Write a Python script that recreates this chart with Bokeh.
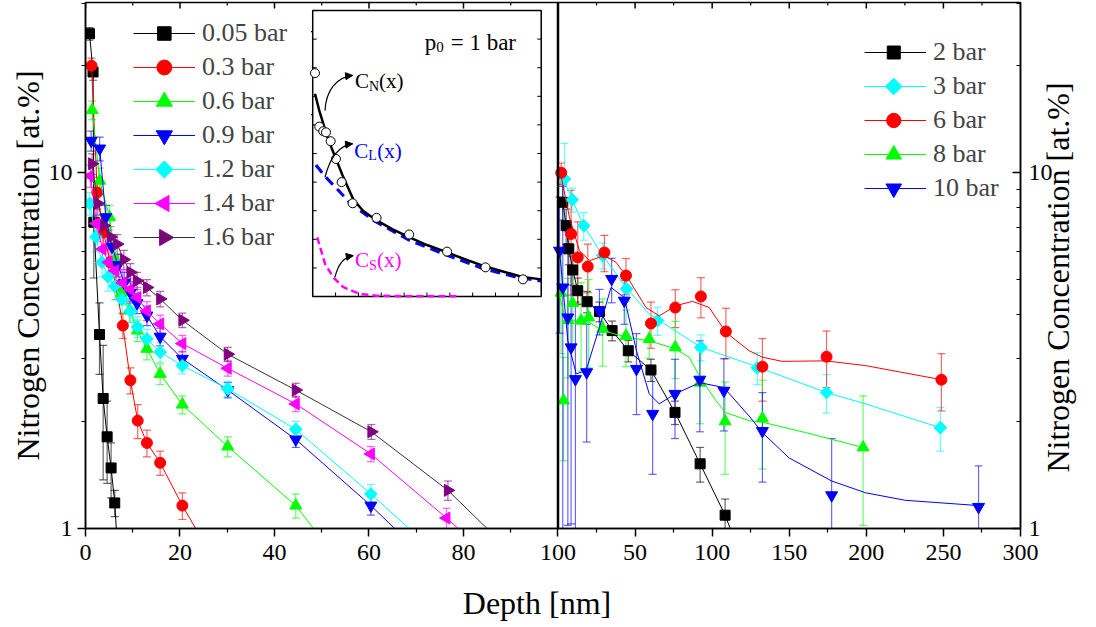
import math
from bokeh.plotting import figure
from bokeh.models import (Range1d, LinearAxis, LogAxis, FixedTicker, BasicTickFormatter,
                          Legend, LegendItem, Whisker, TeeHead, ColumnDataSource, Span,
                          LinearScale, Arrow, NormalHead)
from bokeh.core.properties import value
from bokeh.embed import file_html
from bokeh.resources import INLINE

FONT = "Liberation Serif"

# ---------------- left panel: depth 0-100 nm ----------------
d005_x = [0.85, 1.6, 1.76, 2.96, 3.74, 4.58, 5.42, 6.19, 7.0]
d005_y = [24.6, 19.2, 7.26, 3.51, 2.32, 1.81, 1.48, 1.18, 0.78]
d005_e = [1.0, 1.0, 2.2, 0.8, 0.95, 0.47, 0.26, 0.10, 0.10]

d03_x = [1.27, 2.5, 3.8, 5.2, 6.5, 7.9, 9.5, 11.05, 13.0, 15.8, 20.5, 30.1]
d03_y = [20.0, 8.8, 6.8, 5.6, 4.8, 3.72, 2.61, 2.01, 1.74, 1.53, 1.16, 0.70]
d03_e = [1.0, 0.9, 0.6, 0.5, 0.4, 0.3, 0.22, 0.22, 0.15, 0.12, 0.10, 0.06]

d06_x = [1.41, 3.0, 5.1, 6.3, 7.6, 9.3, 11.0, 13.0, 15.8, 20.5, 30.1, 44.5, 60.4]
d06_y = [15.0, 9.5, 7.5, 5.7, 4.6, 4.1, 3.6, 3.2, 2.72, 2.23, 1.70, 1.16, 0.62]
d06_e = [0.9, 0.8, 0.6, 0.45, 0.35, 0.3, 0.25, 0.22, 0.18, 0.13, 0.11, 0.09, 0.05]

d09_x = [1.2, 3.0, 4.3, 5.6, 6.9, 8.2, 9.5, 10.9, 13.0, 15.8, 20.5, 30.1, 44.5, 60.4, 76.6]
d09_y = [12.3, 11.7, 7.5, 6.2, 5.5, 4.9, 4.6, 4.3, 3.97, 3.46, 3.0, 2.45, 1.78, 1.16, 0.72]
d09_e = [0.8, 0.9, 0.6, 0.5, 0.4, 0.35, 0.3, 0.28, 0.25, 0.2, 0.15, 0.12, 0.09, 0.07, 0.05]

d12_x = [0.9, 2.2, 3.5, 4.8, 6.2, 7.75, 9.5, 11.0, 13.0, 15.8, 20.5, 30.1, 44.5, 60.4, 76.6]
d12_y = [8.2, 6.6, 5.6, 5.1, 4.8, 4.4, 4.09, 3.69, 3.41, 3.13, 2.87, 2.47, 1.90, 1.25, 0.80]
d12_e = [0.6, 0.6, 0.5, 0.45, 0.4, 0.35, 0.3, 0.25, 0.22, 0.2, 0.15, 0.12, 0.1, 0.08, 0.05]

d14_x = [1.06, 2.3, 3.6, 4.9, 6.3, 7.9, 9.5, 11.0, 13.0, 15.8, 20.5, 30.1, 44.5, 60.4, 76.4, 92.5]
d14_y = [9.8, 7.2, 6.1, 5.6, 5.3, 4.9, 4.7, 4.46, 4.09, 3.76, 3.31, 2.82, 2.24, 1.62, 1.07, 0.69]
d14_e = [0.7, 0.8, 0.6, 0.5, 0.45, 0.4, 0.35, 0.3, 0.25, 0.22, 0.18, 0.14, 0.11, 0.08, 0.07, 0.05]

d16_x = [1.4, 2.6, 3.9, 5.3, 6.7, 8.1, 9.5, 10.9, 13.0, 15.8, 20.5, 30.1, 44.5, 60.5, 76.7, 92.5]
d16_y = [10.6, 8.2, 7.1, 6.6, 6.3, 5.7, 5.25, 4.97, 4.76, 4.42, 3.85, 3.09, 2.45, 1.87, 1.28, 0.80]
d16_e = [0.7, 0.6, 0.5, 0.45, 0.4, 0.35, 0.3, 0.28, 0.25, 0.22, 0.18, 0.14, 0.11, 0.09, 0.08, 0.05]

# ---------------- right panel: depth 0-300 nm ----------------
b2_x = [3.1, 5.3, 7.0, 9.6, 12.8, 18.9, 26.9, 35.1, 45.6, 60.3, 75.9, 92.2, 108.4, 125.0]
b2_y = [8.26, 7.1, 6.11, 5.33, 4.66, 4.34, 4.07, 3.60, 3.16, 2.79, 2.12, 1.52, 1.09, 0.71]
b2_e = [0.9, 0.8, 0.6, 0.5, 0.4, 0.3, 0.26, 0.23, 0.22, 0.2, 0.16, 0.17, 0.12, 0.1]

b3_x = [4.2, 9.2, 16.7, 29.0, 44.5, 64.6, 92.7, 129.3, 174.2, 248.0]
b3_y = [9.6, 8.4, 7.1, 5.85, 4.72, 3.84, 3.23, 2.83, 2.41, 1.92]
b3_e = [2.5, 0.65, 0.64, 0.49, 0.37, 0.35, 0.27, 0.29, 0.30, 0.27]
b3_fit_x = [3.1, 16.0, 29.0, 44.1, 59.2, 92.7, 124.0, 174.2, 199.5, 248.0]
b3_fit_y = [9.71, 7.18, 5.85, 4.76, 4.01, 3.23, 2.90, 2.41, 2.24, 1.92]

b6_x = [2.1, 8.5, 12.8, 19.3, 30.1, 44.1, 60.3, 76.1, 92.7, 108.9, 132.6, 174.2, 248.7]
b6_y = [10.0, 6.73, 5.78, 5.45, 5.97, 5.14, 3.77, 4.18, 4.49, 3.58, 2.85, 3.04, 2.62]
b6_e = [0.65, 2.2, 1.5, 0.85, 0.70, 0.60, 0.56, 0.51, 0.58, 0.58, 0.57, 0.55, 0.48]
b6_fit_x = [1.0, 7.4, 13.9, 20.4, 30.1, 37.7, 46.4, 57.1, 65.7, 76.5, 87.2, 98.1, 108.9,
            124.0, 132.6, 145.5, 173.6, 199.5, 248.7]
b6_fit_y = [10.3, 7.5, 6.04, 5.66, 5.85, 5.6, 4.97, 4.18, 3.96, 4.23, 4.35, 4.18, 3.56,
            3.16, 3.03, 2.95, 2.96, 2.87, 2.62]

b8_x = [2.0, 3.6, 6.5, 9.5, 15.0, 19.9, 29.0, 44.1, 59.2, 76.1, 92.2, 108.4, 132.6, 197.9]
b8_y = [4.6, 2.29, 3.85, 4.3, 3.84, 3.92, 3.64, 3.48, 3.41, 3.23, 2.57, 2.0, 2.04, 1.69]
b8_e = [1.5, 0.74, 1.2, 1.0, 1.07, 1.09, 0.78, 0.63, 0.40, 0.59, 0.60, 0.58, 0.57, 0.67]
b8_fit_x = [1.0, 5.0, 12.0, 20.0, 29.0, 44.1, 59.2, 76.1, 85.1, 92.2, 102.4, 108.4, 124.0,
            132.6, 160.7, 197.9]
b8_fit_y = [4.5, 3.85, 3.85, 3.8, 3.60, 3.45, 3.37, 3.2, 3.03, 2.66, 2.29, 2.12, 2.01,
            1.99, 1.86, 1.69]

b10_x = [1.0, 3.1, 6.4, 8.5, 11.3, 18.6, 26.9, 34.8, 43.0, 50.9, 61.4, 75.9, 92.0, 107.6,
         132.6, 177.5, 272.8]
b10_y = [6.04, 4.76, 3.92, 3.23, 2.63, 2.75, 4.10, 5.03, 4.37, 2.81, 2.10, 2.39, 2.62, 2.44,
         1.88, 1.24, 1.15]
b10_e = [2.5, 4.5, 2.9, 2.2, 1.7, 1.0, 0.6, 0.72, 0.62, 0.72, 0.68, 0.6, 0.75, 0.56, 0.53,
         0.55, 0.35]
b10_fit_x = [1.0, 6.4, 11.8, 18.2, 26.9, 34.4, 43.0, 50.9, 59.2, 65.7, 75.9, 92.0, 107.6,
             124.0, 132.6, 149.8, 177.5, 199.5, 225.4, 272.8]
b10_fit_y = [6.04, 3.37, 2.72, 2.78, 3.68, 4.76, 4.46, 3.16, 2.39, 2.24, 2.39, 2.57, 2.49,
             2.07, 1.86, 1.58, 1.36, 1.26, 1.20, 1.16]

# ---------------- inset: p0 = 1 bar ----------------
ins_x = [0.5, 1.44, 2.31, 2.9, 3.93, 5.09, 6.33, 8.73, 13.97, 21.1, 29.4, 37.8, 46.0]
ins_y = [7.81, 5.94, 5.78, 5.74, 5.43, 4.81, 4.0, 3.26, 2.75, 2.17, 1.57, 1.02, 0.60]
ins_e = [1.45, 0.95, 0.7, 0.45, 0.44, 0.44, 0.1, 0.17, 0.05, 0.05, 0.05, 0.05, 0.05]
cn_x = [0.5, 1.44, 2.5, 3.5, 5.09, 6.5, 8.87, 11.0, 14.0, 17.5, 21.2, 25.0, 29.3, 33.0,
        37.2, 42.0, 46.0, 50.0]
cn_y = [7.09, 6.5, 5.95, 5.45, 4.81, 4.25, 3.4, 3.0, 2.66, 2.35, 2.07, 1.8, 1.55, 1.32,
        1.08, 0.86, 0.68, 0.60]
cl_x = [0.7, 2.7, 6.0, 8.2, 13.3, 21.2, 29.3, 37.2, 44.0, 50.0]
cl_y = [4.6, 4.2, 3.65, 3.26, 2.66, 1.96, 1.45, 0.98, 0.70, 0.54]
cs_x = [1.0, 2.7, 4.5, 6.7, 10.3, 14.0, 20.0, 31.8]
cs_y = [2.07, 1.14, 0.67, 0.33, 0.09, 0.03, 0.01, 0.01]

LEFT_MAJOR = [0, 20, 40, 60, 80, 100]
LEFT_MINOR = [10, 30, 50, 70, 90]
RIGHT_MAJOR = [50, 100, 150, 200, 250, 300]
RIGHT_MINOR = [25, 75, 125, 175, 225, 275]
Y_MAJOR = [1, 10]
Y_MINOR = [2, 3, 4, 5, 6, 7, 8, 9, 20, 30]

# ---------------- layout ----------------
W, H = 1096, 627
BL, BR, BT, BB = 85, 74, 2, 99
FW, FH = W - BL - BR, H - BT - BB
SPLIT = 473.5 / FW
LEFT_END, RIGHT_END = 100, 300
Y_MIN, Y_MAX = 1, 30.1

x_left = Range1d(0, LEFT_END / SPLIT)
x_right = Range1d(-RIGHT_END * SPLIT / (1 - SPLIT), RIGHT_END)

INSET_L, INSET_R, INSET_B, INSET_T = 0.243, 0.4874, 0.441, 0.9848
INSET_X = (0, 50)
INSET_Y = (0, 10)
sx_span = (INSET_X[1] - INSET_X[0]) / (INSET_R - INSET_L)
sy_span = (INSET_Y[1] - INSET_Y[0]) / (INSET_T - INSET_B)
ix_range = Range1d(INSET_X[0] - INSET_L * sx_span, INSET_X[0] - INSET_L * sx_span + sx_span)
iy_range = Range1d(INSET_Y[0] - INSET_B * sy_span, INSET_Y[0] - INSET_B * sy_span + sy_span)


def r2l(t):
    return x_left.end * (t - x_right.start) / (x_right.end - x_right.start)


p = figure(width=W, height=H, x_range=x_left, y_range=Range1d(Y_MIN, Y_MAX),
           y_axis_type="log", output_backend="svg", toolbar_location=None,
           min_border_left=BL, min_border_right=BR, min_border_top=BT, min_border_bottom=BB,
           background_fill_color="white", border_fill_color="white",
           outline_line_color="black", outline_line_width=1.5)
p.extra_x_ranges = {"r": x_right, "ix": ix_range, "px": Range1d(0, FW)}
p.extra_y_ranges = {"iy": iy_range, "py": Range1d(0, FH)}
p.extra_y_scales = {"iy": LinearScale(), "py": LinearScale()}
p.grid.visible = False

x_ticks = LEFT_MAJOR + [r2l(t) for t in RIGHT_MAJOR]
x_minor = LEFT_MINOR + [r2l(t) for t in RIGHT_MINOR]
overrides = {r2l(t): str(t) for t in RIGHT_MAJOR}


def style_axis(ax, tick_in, tick_out):
    ax.axis_line_width = 1.5
    ax.major_tick_line_width = 1.5
    ax.minor_tick_line_width = 1.2
    ax.major_tick_in = tick_in
    ax.major_tick_out = tick_out
    ax.minor_tick_in = tick_in // 2
    ax.minor_tick_out = tick_out // 2
    ax.major_label_text_font = FONT
    ax.major_label_text_font_size = "24px"
    ax.major_label_text_color = "black"
    ax.axis_label_text_font = FONT
    ax.axis_label_text_font_size = "32px"
    ax.axis_label_text_font_style = "normal"
    ax.axis_label_text_color = "black"


xa = p.xaxis[0]
xa.ticker = FixedTicker(ticks=x_ticks, minor_ticks=x_minor)
xa.major_label_overrides = overrides
style_axis(xa, 0, 8)
xa.major_label_standoff = 8
xa.axis_label = "Depth [nm]" + "\u00a0" * 4
xa.axis_label_standoff = 22

YLABEL = "Nitrogen Concentration [at.%]"
ya = p.yaxis[0]
ya.ticker = FixedTicker(ticks=Y_MAJOR, minor_ticks=Y_MINOR)
ya.formatter = BasicTickFormatter()
style_axis(ya, 0, 8)
ya.major_label_standoff = 5
ya.axis_label = YLABEL
ya.axis_label_standoff = 0

yr = LogAxis(ticker=FixedTicker(ticks=Y_MAJOR, minor_ticks=Y_MINOR),
             formatter=BasicTickFormatter())
style_axis(yr, 8, 0)
yr.major_label_standoff = 8
yr.axis_label = YLABEL
yr.axis_label_standoff = 2
_props = yr.properties()
if "axis_label_orientation" in _props and "axis_label_align" in _props:
    # read bottom-to-top like the left label; anchored at the axis start and
    # pushed up with leading no-break spaces so that it sits centred
    yr.axis_label_orientation = math.pi / 2
    yr.axis_label_align = "start"
    yr.axis_label = "\u00a0" * 7 + YLABEL
p.add_layout(yr, "right")

p.add_layout(Span(location=LEFT_END, dimension="height", line_color="black", line_width=2.5))

# ticks mirrored on the top edge of the frame
TOP_TICK_PX_MAJOR, TOP_TICK_PX_MINOR = 6, 3
px_per_decade = FH / math.log10(Y_MAX / Y_MIN)
p.segment(x0=x_ticks, x1=x_ticks, y0=[Y_MAX] * len(x_ticks),
          y1=[Y_MAX / 10 ** (TOP_TICK_PX_MAJOR / px_per_decade)] * len(x_ticks),
          line_color="black", line_width=1.5)
p.segment(x0=x_minor, x1=x_minor, y0=[Y_MAX] * len(x_minor),
          y1=[Y_MAX / 10 ** (TOP_TICK_PX_MINOR / px_per_decade)] * len(x_minor),
          line_color="black", line_width=1.2)

LEFT = [
    ("0.05 bar", d005_x, d005_y, d005_e, "square", 0.0, 10, "#000000", "#000000"),
    ("0.3 bar", d03_x, d03_y, d03_e, "circle", 0.0, 11, "#ff0000", "#ff0000"),
    ("0.6 bar", d06_x, d06_y, d06_e, "triangle", 0.0, 12, "#00ff00", "#00ff00"),
    ("0.9 bar", d09_x, d09_y, d09_e, "inverted_triangle", 0.0, 12, "#0000ff", "#0000ff"),
    ("1.2 bar", d12_x, d12_y, d12_e, "square", math.pi / 4, 9, "#00ffff", "#00ffff"),
    ("1.4 bar", d14_x, d14_y, d14_e, "triangle", math.pi / 2, 12, "#ff00ff", "#ff00ff"),
    ("1.6 bar", d16_x, d16_y, d16_e, "triangle", -math.pi / 2, 12, "#800080", "#333333"),
]
RIGHT = [
    ("2 bar", b2_x, b2_y, b2_e, None, None, "square", 0.0, 10, "#000000"),
    ("3 bar", b3_x, b3_y, b3_e, b3_fit_x, b3_fit_y, "square", math.pi / 4, 9, "#00ffff"),
    ("6 bar", b6_x, b6_y, b6_e, b6_fit_x, b6_fit_y, "circle", 0.0, 11, "#ff0000"),
    ("8 bar", b8_x, b8_y, b8_e, b8_fit_x, b8_fit_y, "triangle", 0.0, 12, "#00ff00"),
    ("10 bar", b10_x, b10_y, b10_e, b10_fit_x, b10_fit_y, "inverted_triangle", 0.0, 12, "#0000ff"),
]


def whisker(src, color, xr="default", yr_="default", alpha=0.6):
    w = Whisker(base="x", upper="up", lower="lo", source=src, line_color=color,
                line_alpha=alpha, line_width=1.2, x_range_name=xr, y_range_name=yr_,
                upper_head=TeeHead(size=8, line_color=color, line_alpha=alpha, line_width=1.2),
                lower_head=TeeHead(size=8, line_color=color, line_alpha=alpha, line_width=1.2))
    p.add_layout(w)


left_items, left_syms = [], []
for name, xs, ys, es, marker, ang, size, color, lcolor in LEFT:
    src = ColumnDataSource(dict(x=xs, y=ys, up=[y + e for y, e in zip(ys, es)],
                                lo=[max(y - e, 0.05) for y, e in zip(ys, es)]))
    ln = p.line("x", "y", source=src, line_color=lcolor, line_width=1)
    whisker(src, color)
    p.scatter("x", "y", source=src, marker=marker, angle=ang, size=size,
              fill_color=color, line_color=color)
    left_items.append(LegendItem(label=name, renderers=[ln]))
    left_syms.append((marker, ang, size, color))

right_items, right_syms = [], []
for name, xs, ys, es, fx, fy, marker, ang, size, color in RIGHT:
    src = ColumnDataSource(dict(x=xs, y=ys, up=[y + e for y, e in zip(ys, es)],
                                lo=[max(y - e, 0.05) for y, e in zip(ys, es)]))
    if fx is None:
        ln = p.line("x", "y", source=src, line_color=color, line_width=1, x_range_name="r")
    else:
        ln = p.line(fx, fy, line_color=color, line_width=1, x_range_name="r")
    whisker(src, color, xr="r")
    p.scatter("x", "y", source=src, marker=marker, angle=ang, size=size,
              fill_color=color, line_color=color, x_range_name="r")
    right_items.append(LegendItem(label=name, renderers=[ln]))
    right_syms.append((marker, ang, size, color))

LEG_ROW, LEG_SPACING, LEG_GLYPH_W = 30, 4, 62


def make_legend(items, syms, loc, scale):
    lg = Legend(items=items, location=loc, label_text_font=FONT, label_text_font_size="26px",
                glyph_width=LEG_GLYPH_W, glyph_height=LEG_ROW, label_standoff=7,
                spacing=LEG_SPACING, padding=0, margin=0, border_line_alpha=0,
                background_fill_alpha=0, label_height=LEG_ROW)
    p.add_layout(lg)
    # legend symbols (drawn on a pixel overlay so that rotated markers keep their orientation)
    n = len(items)
    top_y = loc[1] + n * LEG_ROW + (n - 1) * LEG_SPACING
    for i, (marker, ang, size, color) in enumerate(syms):
        p.scatter(x=[loc[0] + LEG_GLYPH_W / 2], y=[top_y - LEG_ROW / 2 - i * (LEG_ROW + LEG_SPACING)],
                  marker=marker, angle=ang, size=size * scale, fill_color=color,
                  line_color=color, x_range_name="px", y_range_name="py")


make_legend(left_items, left_syms, (48, 276), 1.35)
make_legend(right_items, right_syms, (779, 325), 1.3)

# ---------------- inset ----------------
IK = dict(x_range_name="ix", y_range_name="iy")
p.quad(left=[INSET_X[0]], right=[INSET_X[1]], bottom=[INSET_Y[0]], top=[INSET_Y[1]],
       fill_color="white", line_color="black", line_width=1.5, **IK)
tick_dx = 4 * sx_span / FW
tick_dy = 4 * sy_span / FH
INSET_XT = [5, 10, 15, 20, 25, 30, 35, 40, 45]
INSET_YT = [1, 2, 3, 4, 5, 6, 7, 8, 9]
p.segment(x0=INSET_XT, x1=INSET_XT, y0=[INSET_Y[0]] * len(INSET_XT),
          y1=[INSET_Y[0] + tick_dy] * len(INSET_XT), line_color="black", line_width=1, **IK)
p.segment(x0=[INSET_X[0]] * len(INSET_YT), x1=[INSET_X[0] + tick_dx] * len(INSET_YT),
          y0=INSET_YT, y1=INSET_YT, line_color="black", line_width=1, **IK)
p.segment(x0=[INSET_X[1]] * len(INSET_YT), x1=[INSET_X[1] - tick_dx] * len(INSET_YT),
          y0=INSET_YT, y1=INSET_YT, line_color="black", line_width=1, **IK)

p.line(cs_x, cs_y, line_color="#ff00ff", line_width=2.5, line_dash="7 4", **IK)
p.line(cl_x, cl_y, line_color="#0000ff", line_width=3, line_dash="10 6", **IK)
p.line(cn_x, cn_y, line_color="black", line_width=2.5, **IK)
isrc = ColumnDataSource(dict(x=ins_x, y=ins_y, up=[y + e for y, e in zip(ins_y, ins_e)],
                             lo=[y - e for y, e in zip(ins_y, ins_e)]))
whisker(isrc, "black", xr="ix", yr_="iy", alpha=1.0)
p.scatter("x", "y", source=isrc, marker="circle", size=9, fill_color="white",
          line_color="black", line_width=1, **IK)

ARROWS = [  # tail (near curve), control 1, control 2, head (near label)
    ((2.69, 6.50), (2.9, 7.2), (5.2, 7.67), (8.73, 7.73)),
    ((2.69, 4.17), (3.78, 4.87), (5.6, 5.28), (8.73, 5.34)),
    ((4.87, 0.675), (5.6, 1.14), (6.7, 1.37), (8.87, 1.43)),
]
for (x0, y0), (c0x, c0y), (c1x, c1y), (x1, y1) in ARROWS:
    p.bezier(x0=[x0], y0=[y0], x1=[x1], y1=[y1], cx0=[c0x], cy0=[c0y], cx1=[c1x], cy1=[c1y],
             line_color="black", line_width=1.2, **IK)
    p.add_layout(Arrow(end=NormalHead(size=7, fill_color="black", line_color="black"),
                       x_start=c1x + (x1 - c1x) * 0.8, y_start=c1y + (y1 - c1y) * 0.8,
                       x_end=x1, y_end=y1, line_alpha=0, **IK))


def sub_text(x, y, parts, color):
    for txt, dx, dy, size in parts:
        p.text(x=[x], y=[y], text=[txt], x_offset=dx, y_offset=dy, text_font=value(FONT),
               text_font_size=size, text_color=color, text_baseline="alphabetic", **IK)


sub_text(9.24, 7.53, [("C", 0, 0, "21px"), ("N", 14, 5, "14px"), ("(x)", 24, 0, "21px")], "black")
sub_text(9.09, 5.10, [("C", 0, 0, "21px"), ("L", 14, 5, "14px"), ("(x)", 23, 0, "21px")], "#0000ff")
sub_text(9.24, 1.26, [("C", 0, 0, "21px"), ("S", 14, 5, "14px"), ("(x)", 22, 0, "21px")], "#ff00ff")
sub_text(24.5, 8.89, [("p", 0, 0, "23px"), ("0", 11.5, 5, "15px"), ("= 1 bar", 26, 0, "23px")], "black")

open("out.html", "w").write(file_html(p, INLINE))
